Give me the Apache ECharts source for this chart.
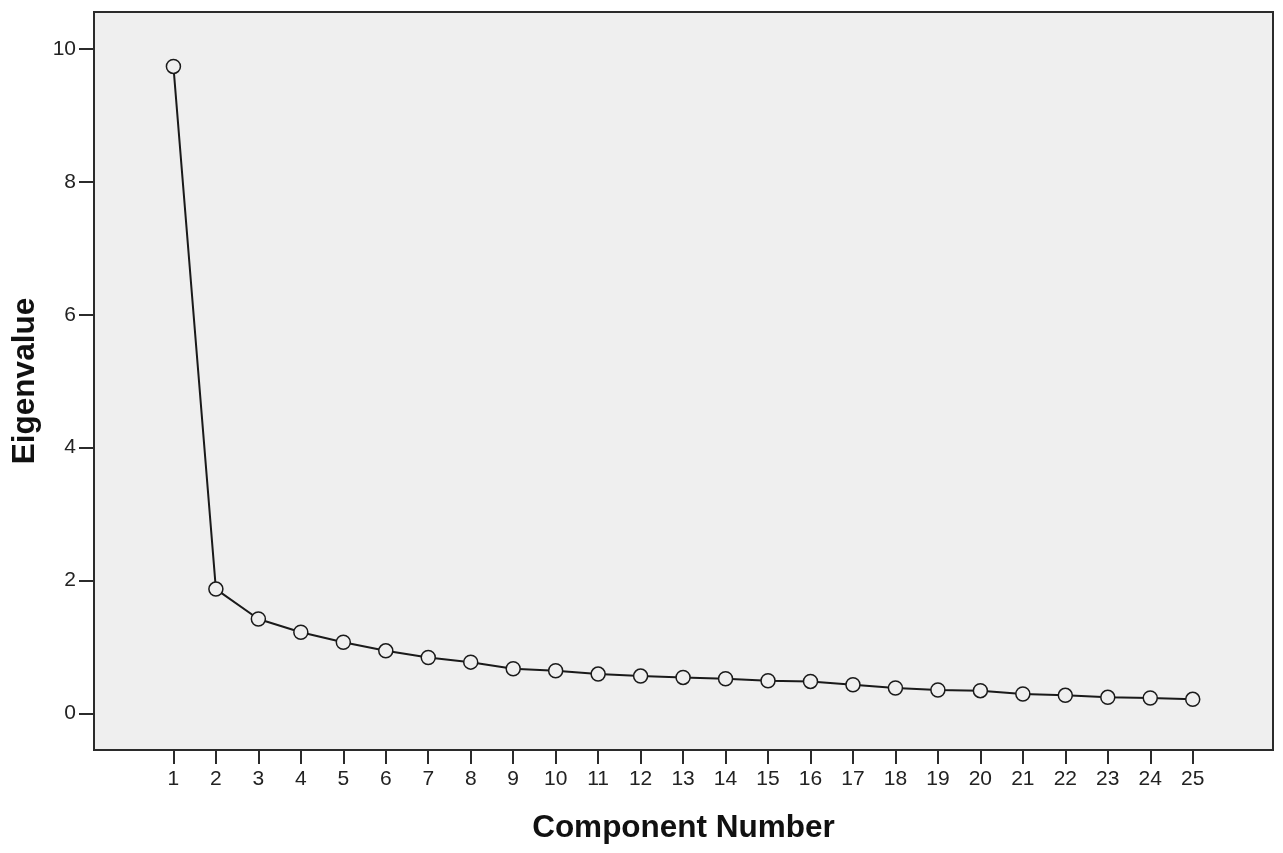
<!DOCTYPE html>
<html>
<head>
<meta charset="utf-8">
<script src="https://cdn.jsdelivr.net/npm/echarts@6/dist/echarts.min.js"></script>
<style>
  html, body { margin: 0; padding: 0; background: #fff; }
  #chart { width: 1283px; height: 853px; }
</style>
</head>
<body>
<div id="chart"></div>
<script>
// scree plot values
const components = [1, 2, 3, 4, 5, 6, 7, 8, 9, 10, 11, 12, 13, 14, 15, 16, 17, 18, 19, 20, 21, 22, 23, 24, 25];
const eigenvalues = [9.74, 1.87, 1.42, 1.22, 1.07, 0.94, 0.84, 0.77, 0.67, 0.64, 0.59, 0.56, 0.54, 0.52, 0.49, 0.48, 0.43, 0.38, 0.35, 0.34, 0.29, 0.27, 0.24, 0.23, 0.21];
const yTicks = [0, 2, 4, 6, 8, 10];

function getChartOptions() {
    const axisColor = '#2b2b2b';
    return {
        animation: false,
        textStyle: { fontFamily: 'Liberation Sans, Arial, sans-serif' },
        grid: {
            left: 94,
            top: 12,
            width: 1179,
            height: 738,
            show: true,
            backgroundColor: '#efefef',
            borderColor: axisColor,
            borderWidth: 2
        },
        xAxis: {
            type: 'value',
            min: -0.87,
            max: 26.89,
            name: 'Component Number',
            nameLocation: 'middle',
            nameGap: 62,
            nameTextStyle: { fontSize: 31.5, fontWeight: 'bold', color: '#111' },
            axisLine: { show: true, onZero: false, lineStyle: { color: axisColor, width: 2 } },
            axisTick: { show: true, length: 14, customValues: components, lineStyle: { color: axisColor, width: 2 } },
            axisLabel: { customValues: components, fontSize: 21, color: '#222', margin: 19 },
            splitLine: { show: false }
        },
        yAxis: {
            type: 'value',
            min: -0.553,
            max: 10.56,
            name: 'Eigenvalue',
            nameLocation: 'middle',
            nameGap: 49,
            nameTextStyle: { fontSize: 31.5, fontWeight: 'bold', color: '#111' },
            axisLine: { show: true, onZero: false, lineStyle: { color: axisColor, width: 2 } },
            axisTick: { show: true, length: 15, customValues: yTicks, lineStyle: { color: axisColor, width: 2 } },
            axisLabel: { customValues: yTicks, fontSize: 21, color: '#222', margin: 18 },
            splitLine: { show: false }
        },
        series: [
            {
                type: 'line',
                data: components.map((c, i) => [c, eigenvalues[i]]),
                symbol: 'circle',
                symbolSize: 14,
                lineStyle: { color: '#1a1a1a', width: 2 },
                itemStyle: { color: '#efefef', borderColor: '#1a1a1a', borderWidth: 1.5 }
            }
        ]
    };
}

const chart = echarts.init(document.getElementById('chart'));
chart.setOption(getChartOptions());
</script>
</body>
</html>
